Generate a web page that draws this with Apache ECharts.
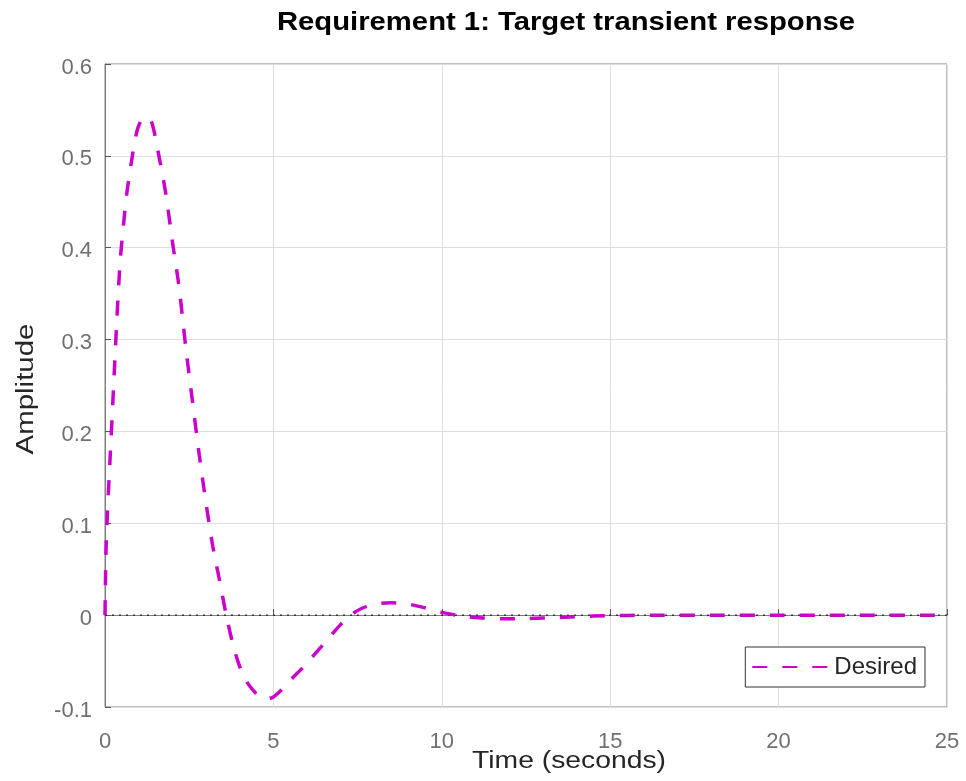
<!DOCTYPE html>
<html>
<head>
<meta charset="utf-8">
<script src="https://cdn.jsdelivr.net/npm/echarts@6/dist/echarts.min.js"></script>
<style>
html,body{margin:0;padding:0;background:#fff;}
#chart{width:966px;height:781px;}
</style>
</head>
<body>
<div id="chart"></div>
<script>
// Data
var timeValues = [0,0.03,0.07,0.15,0.25,0.35,0.45,0.55,0.65,0.8,0.95,1.1,1.25,1.4,1.6,1.8,2.0,2.2,2.4,2.6,2.8,3.0,3.2,3.4,3.6,3.8,4.0,4.2,4.4,4.6,4.8,5.0,5.25,5.5,5.9,6.5,7.0,7.3,7.6,8.0,8.5,9.0,9.5,10.0,10.6,11.2,11.8,12.5,13.5,14.5,15.5,16.5,18,20,22,25];
var desiredValues = [0,0.07,0.11,0.17,0.245,0.32,0.385,0.425,0.46,0.497,0.527,0.54,0.542,0.535,0.5,0.46,0.407,0.357,0.291,0.232,0.174,0.122,0.075,0.038,0.0,-0.032,-0.056,-0.072,-0.082,-0.089,-0.091,-0.089,-0.081,-0.071,-0.056,-0.031,-0.01,0.0,0.007,0.012,0.0135,0.012,0.008,0.003,-0.001,-0.003,-0.004,-0.0038,-0.0025,-0.001,-0.0003,0,0,0,0,0];
var zeroLineX = [0, 25];
var zeroLineY = [0, 0];
var xTicks = [0, 5, 10, 15, 20, 25];
var yTicks = [-0.1, 0, 0.1, 0.2, 0.3, 0.4, 0.5, 0.6];
var titleText = 'Requirement 1: Target transient response';
var xLabelText = 'Time (seconds)';
var yLabelText = 'Amplitude';
var seriesName = 'Desired';

var desiredData = timeValues.map(function(t, i){ return [t, desiredValues[i]]; });
var zeroData = zeroLineX.map(function(t, i){ return [t, zeroLineY[i]]; });

var chart = echarts.init(document.getElementById('chart'), null, {renderer:'canvas'});
var font = 'Liberation Sans, Arial, Helvetica, sans-serif';
var option = {
  backgroundColor: '#ffffff',
  animation: false,
  textStyle: {fontFamily: font},
  grid: {left: 105, right: 19, top: 64, bottom: 74, show: true, borderColor: '#808080', borderWidth: 1, backgroundColor: 'transparent'},
  xAxis: {
    type: 'value', min: xTicks[0], max: xTicks[xTicks.length-1], interval: 5,
    axisLine: {show: true, lineStyle: {color: '#808080', width: 1}},
    axisTick: {show: true, inside: true, length: 6, lineStyle: {color: '#555'}},
    axisLabel: {color: '#707070', fontSize: 22, margin: 24, fontFamily: font},
    splitLine: {show: true, lineStyle: {color: '#dedede', width: 1}}
  },
  yAxis: {
    type: 'value', min: yTicks[0], max: yTicks[yTicks.length-1], interval: 0.1,
    axisLine: {show: true, lineStyle: {color: '#808080', width: 1}},
    axisTick: {show: true, inside: true, length: 6, lineStyle: {color: '#555'}},
    axisLabel: {color: '#707070', fontSize: 22, margin: 13, fontFamily: font,
      formatter: function(v){ return '{v|' + String(Math.round(v*10)/10) + '}'; },
      rich: {v: {color: '#707070', fontSize: 22, fontFamily: font, padding: [7, 0, 0, 0]}}},
    splitLine: {show: true, lineStyle: {color: '#dedede', width: 1}}
  },
  legend: {
    data: [seriesName],
    right: 41, bottom: 94,
    orient: 'vertical',
    backgroundColor: '#ffffff',
    borderColor: '#333333', borderWidth: 1, borderRadius: 0,
    padding: [8, 8, 8, 6],
    itemWidth: 80, itemHeight: 18, itemGap: 4,
    itemStyle: {opacity: 0},
    textStyle: {fontSize: 24, color: '#262626', fontFamily: font, padding: [0,0,0,-3]}
  },
  graphic: [
    {type: 'text', x: 566, y: 23, scaleX: 1.17, style: {text: titleText, x: 0, y: 0, textAlign: 'center', textVerticalAlign: 'middle', font: 'bold 25px ' + font, fill: '#000'}},
    {type: 'text', x: 569, y: 762, scaleX: 1.23, style: {text: xLabelText, x: 0, y: 0, textAlign: 'center', textVerticalAlign: 'middle', font: '23px ' + font, fill: '#262626'}},
    {type: 'text', rotation: Math.PI/2, x: 27, y: 389, scaleX: 1.28, style: {text: yLabelText, x: 0, y: 0, textAlign: 'center', textVerticalAlign: 'middle', font: '23px ' + font, fill: '#262626'}}
  ],
  series: [
    {
      name: 'zero', type: 'line', data: zeroData, symbol: 'none', silent: true,
      lineStyle: {color: '#333333', width: 1.5, type: [2, 5]}, z: 2
    },
    {
      name: seriesName, type: 'line', data: desiredData, symbol: 'none', smooth: 0.3,
      lineStyle: {color: '#cc00cc', width: 3.5, type: [15, 15], cap: 'butt'},
      itemStyle: {color: '#cc00cc'}, z: 3
    }
  ]
};
chart.setOption(option);
</script>
</body>
</html>
